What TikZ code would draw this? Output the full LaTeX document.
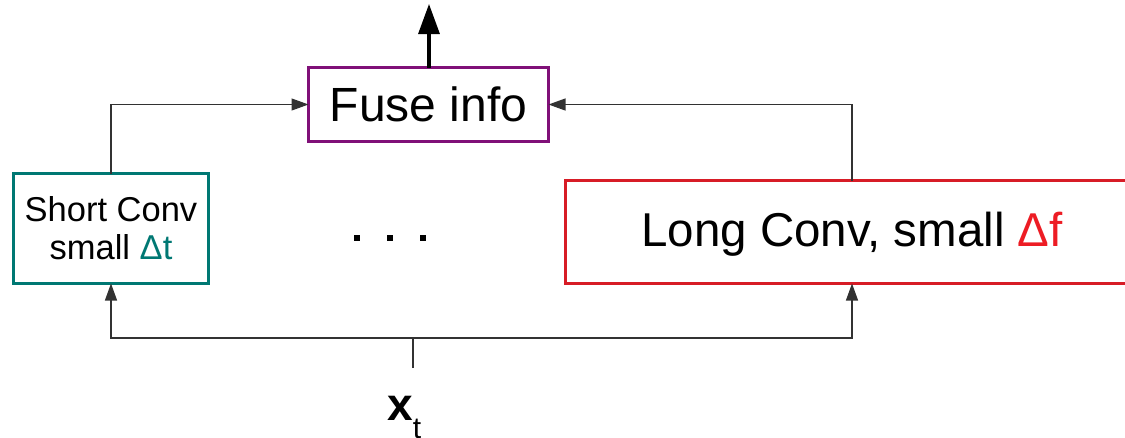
\documentclass[tikz,border=0pt]{standalone}
\usepackage{fontspec}
\setmainfont{Liberation Sans}
\usetikzlibrary{arrows.meta}
\definecolor{tealbox}{RGB}{0,120,115}
\definecolor{purplebox}{RGB}{128,16,120}
\definecolor{redbox}{RGB}{215,28,38}
\definecolor{redtext}{RGB}{237,28,36}
\definecolor{linegray}{RGB}{50,50,50}
\tikzset{
  boxnode/.style={draw, line width=3pt, inner sep=0pt, outer sep=0pt, align=center, fill=white},
  conn/.style={draw=linegray, line width=1.2pt, -{Triangle[length=17pt,width=12pt]}},
  plainconn/.style={draw=linegray, line width=1.2pt},
  outarrow/.style={draw=black, line width=3.2pt, -{Triangle[length=30pt,width=21pt]}},
}
\begin{document}
\begin{tikzpicture}[x=1pt,y=-1pt]
\useasboundingbox (0,0) rectangle (1125,437);
\clip (0,0) rectangle (1125,437);
\node[boxnode, draw=tealbox, minimum width=195pt, minimum height=110pt, font=\fontsize{34.5}{38}\selectfont] (short) at (111,228.5) {Short Conv\\small \textcolor{tealbox}{Δt}};
\node[boxnode, draw=purplebox, minimum width=240pt, minimum height=74pt, font=\fontsize{48}{52}\selectfont] (fuse) at (428.5,104.5) {Fuse info};
\node[boxnode, draw=redbox, minimum width=584pt, minimum height=103pt] (long) at (857.5,232) {};
\node[font=\fontsize{47.5}{52}\selectfont, inner sep=0pt] (longtext) at (852,234) {Long Conv, small \textcolor{redtext}{Δf}};
\fill (354,235) rectangle (360,241);
\fill (387,235) rectangle (393,241);
\fill (420,235) rectangle (426,241);
\coordinate (rc) at (852,0);
\coordinate (top) at (429,4);
\coordinate (split) at (413,338);
\coordinate (src) at (413,368);
\draw[outarrow] (fuse.north -| top) -- (top);
\draw[conn] (short.north) |- (fuse.west);
\draw[conn] (long.north -| rc) |- (fuse.east);
\draw[plainconn] (src) -- (split);
\draw[conn] (split) -| (short.south);
\draw[conn] (split) -| (long.south -| rc);
\node[inner sep=0pt, anchor=base west] (xt) at (387,420) {\fontsize{46}{50}\selectfont\bfseries x\raisebox{-18pt}{\fontsize{30}{34}\selectfont\mdseries t}};
\end{tikzpicture}
\end{document}
